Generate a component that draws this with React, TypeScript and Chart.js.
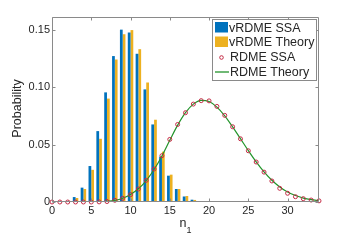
import React, { useEffect, useRef } from "react";
import { Chart, registerables } from "chart.js";

Chart.register(...registerables);

// ---- data ----
const nBars = [0, 1, 2, 3, 4, 5, 6, 7, 8, 9, 10, 11, 12, 13, 14, 15, 16, 17, 18, 19, 20];
const vrdmeSSA = [0, 0, 0.0008, 0.0043, 0.0125, 0.0313, 0.0617, 0.0954, 0.127, 0.150, 0.1475, 0.129, 0.098, 0.0675, 0.0394, 0.0229, 0.0113, 0.0048, 0.002, 0.0005, 0.0002];
const vrdmeTheory = [0, 0.0002, 0.001, 0.0035, 0.0113, 0.028, 0.055, 0.090, 0.124, 0.146, 0.1496, 0.133, 0.104, 0.0716, 0.0438, 0.0238, 0.0113, 0.0052, 0.0018, 0.0007, 0.0002];

const nRdme = [0, 1, 2, 3, 4, 5, 6, 7, 8, 9, 10, 11, 12, 13, 14, 15, 16, 17, 18, 19, 20, 21, 22, 23, 24, 25, 26, 27, 28, 29, 30, 31, 32, 33, 34];
const rdmeSSA = [0, 0, 0, 0, 0, 0, 0.0001, 0.0004, 0.0015, 0.0032, 0.0064, 0.0113, 0.0189, 0.0287, 0.0403, 0.0545, 0.0675, 0.0777, 0.0852, 0.0882, 0.088, 0.0832, 0.0754, 0.0655, 0.055, 0.0446, 0.0348, 0.026, 0.0183, 0.0119, 0.0076, 0.0046, 0.0029, 0.0017, 0.001];
const rdmeTheory = [0, 0, 0, 0, 0, 0, 0.0001, 0.0005, 0.0014, 0.0033, 0.0066, 0.0115, 0.0187, 0.0283, 0.0401, 0.0537, 0.0669, 0.0778, 0.0852, 0.0884, 0.0874, 0.0826, 0.075, 0.0654, 0.0551, 0.0447, 0.0349, 0.0262, 0.0189, 0.0131, 0.0087, 0.0056, 0.0034, 0.002, 0.0012];

const xTicks = [0, 5, 10, 15, 20, 25, 30];
const yTicks = [0, 0.05, 0.1, 0.15];
const seriesLabels = ["vRDME SSA", "vRDME Theory", "RDME SSA", "RDME Theory"];
const xTitle = "n";
const xTitleSub = "1";
const yTitle = "Probability";

const BLUE = "#0072BD";
const ORANGE = "#EDB120";
const RED = "#c42b45";
const GREEN = "#22942a";
const AXIS = "#8a8a8a";
const TEXT = "#262626";
const FONT = "'Liberation Sans', Arial, Helvetica, sans-serif";

const decorPlugin = {
  id: "decor",
  afterDraw(chart: any) {
    const { ctx, chartArea } = chart;
    const { left, right, top, bottom } = chartArea;
    const xs = chart.scales.x;
    const ys = chart.scales.y;
    const L = Math.round(left) + 0.5;
    const R = Math.round(right) - 0.5;
    const T = Math.round(top) + 0.5;
    const B = Math.round(bottom) - 0.5;
    ctx.save();
    ctx.strokeStyle = AXIS;
    ctx.lineWidth = 1;
    ctx.beginPath();
    ctx.rect(L, T, R - L, B - T);
    ctx.stroke();
    // inside ticks
    ctx.beginPath();
    xTicks.forEach((v) => {
      const px = Math.round(xs.getPixelForValue(v)) + 0.5;
      ctx.moveTo(px, B);
      ctx.lineTo(px, B - 3);
      ctx.moveTo(px, T);
      ctx.lineTo(px, T + 3);
    });
    yTicks.forEach((v) => {
      const py = Math.round(ys.getPixelForValue(v)) + 0.5;
      ctx.moveTo(L, py);
      ctx.lineTo(L + 3, py);
      ctx.moveTo(R, py);
      ctx.lineTo(R - 3, py);
    });
    ctx.stroke();

    // axis titles
    ctx.fillStyle = TEXT;
    ctx.font = `12.5px ${FONT}`;
    ctx.textAlign = "center";
    ctx.textBaseline = "middle";
    ctx.save();
    ctx.translate(18, (top + bottom) / 2 - 1);
    ctx.rotate(-Math.PI / 2);
    ctx.fillText(yTitle, 0, 0);
    ctx.restore();

    ctx.textAlign = "left";
    ctx.textBaseline = "alphabetic";
    ctx.font = `12.5px ${FONT}`;
    const cx = (left + right) / 2;
    ctx.fillText(xTitle, cx - 6, 227);
    ctx.font = `9px ${FONT}`;
    ctx.fillText(xTitleSub, cx + 1, 233);

    // legend
    const bx = Math.round(right) - 106.5;
    const by = Math.round(top) + 2.5;
    const bw = 104;
    const bh = 61;
    ctx.fillStyle = "#ffffff";
    ctx.fillRect(bx, by, bw, bh);
    ctx.strokeStyle = AXIS;
    ctx.strokeRect(bx, by, bw, bh);
    ctx.font = `12.5px ${FONT}`;
    const rowBase = [by + 12.5, by + 26.5, by + 41.5, by + 56.5];
    const sx = bx + 2.5;
    ctx.fillStyle = BLUE;
    ctx.fillRect(sx, by + 2.5, 13, 10.5);
    ctx.fillStyle = ORANGE;
    ctx.fillRect(sx, by + 17, 13, 10.5);
    ctx.strokeStyle = RED;
    ctx.lineWidth = 1;
    ctx.beginPath();
    ctx.arc(sx + 6.5, by + 38, 1.8, 0, Math.PI * 2);
    ctx.stroke();
    ctx.strokeStyle = GREEN;
    ctx.lineWidth = 1.3;
    ctx.beginPath();
    ctx.moveTo(sx, by + 52.5);
    ctx.lineTo(sx + 14, by + 52.5);
    ctx.stroke();
    ctx.fillStyle = TEXT;
    ctx.fillText(seriesLabels[0], bx + 16.5, rowBase[0]);
    ctx.fillText(seriesLabels[1], bx + 16.5, rowBase[1]);
    ctx.fillText(seriesLabels[2], bx + 17.5, rowBase[2]);
    ctx.fillText(seriesLabels[3], bx + 17.5, rowBase[3]);
    ctx.restore();
  },
};

export default function App() {
  const ref = useRef<HTMLCanvasElement | null>(null);
  useEffect(() => {
    if (!ref.current) return;
    const chart = new Chart(ref.current, {
      type: "bar",
      data: {
        datasets: [
          {
            type: "line",
            label: seriesLabels[2],
            data: nRdme.map((n, i) => ({ x: n, y: rdmeSSA[i] })),
            showLine: false,
            pointStyle: "circle",
            pointRadius: 2,
            pointBorderWidth: 1,
            pointBorderColor: RED,
            pointBackgroundColor: "rgba(0,0,0,0)",
            borderColor: RED,
            clip: false,
            order: 0,
          } as any,
          {
            type: "line",
            label: seriesLabels[3],
            data: nRdme.map((n, i) => ({ x: n, y: rdmeTheory[i] })),
            borderColor: GREEN,
            borderWidth: 1.2,
            pointRadius: 0,
            cubicInterpolationMode: "monotone",
            order: 1,
          } as any,
          {
            type: "bar",
            label: seriesLabels[0],
            data: nBars.map((n, i) => ({ x: n, y: vrdmeSSA[i] })),
            backgroundColor: BLUE,
            borderWidth: 0,
            categoryPercentage: 0.7,
            barPercentage: 1,
            order: 2,
          } as any,
          {
            type: "bar",
            label: seriesLabels[1],
            data: nBars.map((n, i) => ({ x: n, y: vrdmeTheory[i] })),
            backgroundColor: ORANGE,
            borderWidth: 0,
            categoryPercentage: 0.7,
            barPercentage: 1,
            order: 3,
          } as any,
        ],
      },
      options: {
        responsive: false,
        animation: false,
        devicePixelRatio: 1,
        layout: { padding: { left: 0, right: 35, top: 17, bottom: 0 } },
        plugins: { legend: { display: false }, tooltip: { enabled: false } },
        scales: {
          x: {
            type: "linear",
            min: 0,
            max: 34,
            offset: false,
            grid: { display: false, drawTicks: false },
            border: { display: false },
            ticks: {
              stepSize: 5,
              includeBounds: false,
              maxRotation: 0,
              autoSkip: false,
              padding: 2,
              color: TEXT,
              font: { family: FONT, size: 11 },
            },
            afterFit: (s: any) => {
              s.height = 48;
            },
          },
          y: {
            min: 0,
            max: 0.161,
            grid: { display: false, drawTicks: false },
            border: { display: false },
            ticks: {
              stepSize: 0.05,
              includeBounds: false,
              padding: 2,
              color: TEXT,
              font: { family: FONT, size: 11 },
            },
            afterFit: (s: any) => {
              s.width = 52;
            },
          },
        },
      } as any,
      plugins: [decorPlugin],
    });
    return () => chart.destroy();
  }, []);
  return (
    <div style={{ position: "fixed", left: 0, top: 0, width: 354, height: 250, background: "#fff" }}>
      <canvas ref={ref} width={354} height={250} />
    </div>
  );
}
